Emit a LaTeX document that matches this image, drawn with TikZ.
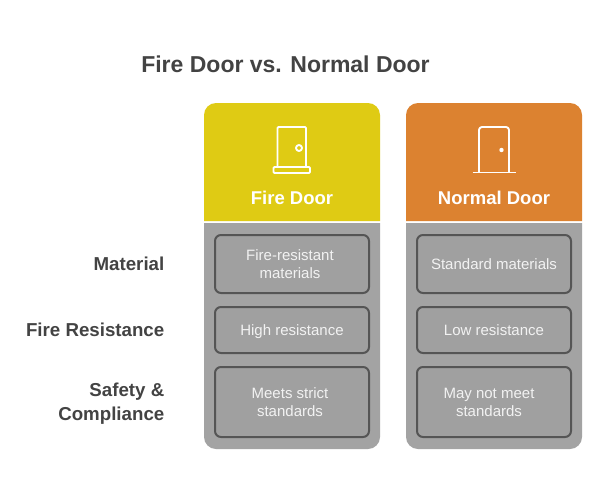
\documentclass[tikz,border=0pt]{standalone}
\usepackage{fontspec}
\setmainfont{Liberation Sans}
\definecolor{fireY}{HTML}{DFCB14}
\definecolor{normO}{HTML}{DC8230}
\definecolor{panelG}{HTML}{A3A3A3}
\definecolor{cellG}{HTML}{A0A0A0}
\definecolor{lineG}{HTML}{555555}
\definecolor{inkG}{HTML}{434343}
\definecolor{cellT}{HTML}{F2F2F2}
\tikzset{
  cellbox/.style={draw=lineG,line width=2pt,fill=cellG,rounded corners=6pt},
  celltext/.style={text=cellT,font=\fontsize{15}{18}\selectfont,align=center,inner sep=0pt,anchor=base},
  rowlabel/.style={text=inkG,font=\bfseries\fontsize{18.7}{24}\selectfont,align=right,anchor=base east,inner sep=0pt},
  headtext/.style={text=white,font=\bfseries\fontsize{18.5}{24}\selectfont,inner sep=0pt,anchor=base},
  iconline/.style={draw=white,line width=1.9pt,line join=round}
}
\begin{document}
\begin{tikzpicture}[x=1pt,y=-1pt]
\useasboundingbox (0,0) rectangle (608,498);
\fill[white] (0,0) rectangle (608,498);
\node[text=inkG,font=\bfseries\fontsize{23}{30}\selectfont,inner sep=0pt,anchor=base] (title) at (285.5,72) {Fire Door vs. Normal Door};
% panels
\fill[fireY] (204,221) [rounded corners=12pt] -- (204,103) -- (380,103) [sharp corners] -- (380,221) -- cycle;
\fill[normO] (406,221) [rounded corners=12pt] -- (406,103) -- (582,103) [sharp corners] -- (582,221) -- cycle;
\fill[panelG] (204,223) -- (380,223) [rounded corners=12pt] -- (380,449) -- (204,449) [sharp corners] -- cycle;
\fill[panelG] (406,223) -- (582,223) [rounded corners=12pt] -- (582,449) -- (406,449) [sharp corners] -- cycle;
% fire door icon
\draw[iconline,rounded corners=1pt] (277.5,167) -- (277.5,127) -- (306,127) -- (306,167);
\draw[iconline,rounded corners=1pt] (273.5,167) rectangle (310,173);
\draw[iconline] (299,148) circle[radius=3];
% normal door icon
\draw[iconline,rounded corners=3pt] (479,172.5) -- (479,127) -- (509,127) -- (509,172.5);
\draw[iconline] (472.5,172.5) -- (516,172.5);
\fill[white] (501.5,150) circle[radius=2.2];
% headers
\node[headtext] (hfire) at (292,204.5) {Fire Door};
\node[headtext] (hnorm) at (494,204.5) {Normal Door};
% cells
\draw[cellbox] (215,235) rectangle (369,293);
\draw[cellbox] (215,307) rectangle (369,353);
\draw[cellbox] (215,367) rectangle (369,437);
\draw[cellbox] (417,235) rectangle (571,293);
\draw[cellbox] (417,307) rectangle (571,353);
\draw[cellbox] (417,367) rectangle (571,437);
\node[celltext] (a1) at (290,278) {Fire-resistant\\materials};
\node[celltext] (a2) at (292,335) {High resistance};
\node[celltext] (a3) at (290,416) {Meets strict\\standards};
\node[celltext] (b1) at (494,269) {Standard materials};
\node[celltext] (b2) at (494,335) {Low resistance};
\node[celltext] (b3) at (489,416) {May not meet\\standards};
% row labels
\node[rowlabel] (r1) at (164.5,270.5) {Material};
\node[rowlabel] (r2) at (164.5,336.5) {Fire Resistance};
\node[rowlabel] (r3) at (164.5,420.5) {Safety \&\\Compliance};
\end{tikzpicture}
\end{document}
